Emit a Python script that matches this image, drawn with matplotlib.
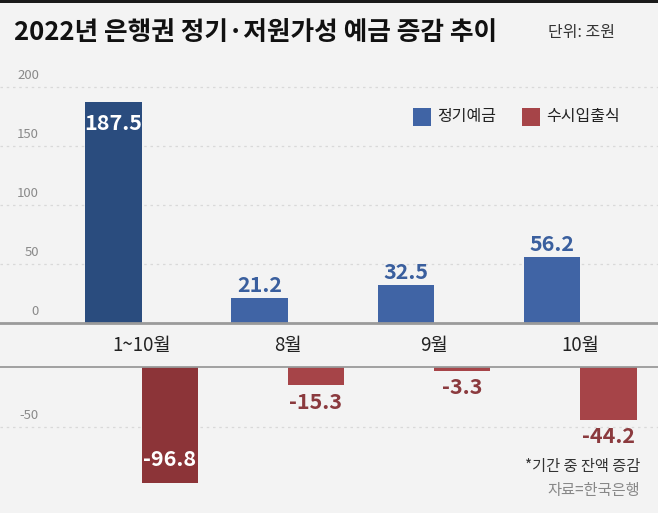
import matplotlib.pyplot as plt

plt.rcParams["font.family"] = ["Noto Sans CJK KR", "DejaVu Sans"]

months = ["1~10월", "8월", "9월", "10월"]
time_dep = [187.5, 21.2, 32.5, 56.2]
demand_dep = [-96.8, -15.3, -3.3, -44.2]
up_ticks = [0, 50, 100, 150, 200]
low_ticks = [-50]

W, H = 658, 513
bg = "#f3f3f3"
blue, blue_dk = "#4064a5", "#2a4c7e"
red, red_dk = "#a64448", "#8c3438"
blue_txt, red_txt = "#3a5f9e", "#8b3a3e"

fig = plt.figure(figsize=(W / 100, H / 100), dpi=100, facecolor=bg)

# thin black strip on top
fig.add_artist(plt.Rectangle((0, 1 - 3 / H), 1, 3 / H, transform=fig.transFigure,
                             color="#1a1a1a", lw=0))

x = list(range(len(months)))
bw = 0.385
xlim = (-141.5 / 146.3, (W - 141.5) / 146.3)


def px(y0, y1):
    return (H - y1) / H, (y1 - y0) / H


b, h = px(63, 323)
ax = fig.add_axes([0, b, 1, h], facecolor=bg)
b, h = px(367, H)
ax2 = fig.add_axes([0, b, 1, h], facecolor=bg)

ax.set_ylim(0, 260 / 1.18)
ax2.set_ylim(-146 / 1.2, 0)
for a in (ax, ax2):
    a.set_xlim(*xlim)
    for s in a.spines.values():
        s.set_visible(False)
    a.set_xticks([])
    a.set_yticks([])

for t in up_ticks[1:]:
    ax.axhline(t, color="#d9d9d9", lw=0.9, ls=(0, (2, 3)), zorder=0)
for t in low_ticks:
    ax2.axhline(t, color="#d9d9d9", lw=0.9, ls=(0, (2, 3)), zorder=0)
ax.axhline(0, color="#9a9a9a", lw=2, zorder=3, clip_on=False)
ax2.axhline(0, color="#9a9a9a", lw=1.3, zorder=3, clip_on=False)

for a, ticks in ((ax, up_ticks), (ax2, low_ticks)):
    for t in ticks:
        a.annotate(str(t), (39 / W, t), xycoords=a.get_yaxis_transform(),
                   xytext=(0, 8.5), textcoords="offset points", ha="right",
                   va="center", fontsize=9.5, color="#8a8a8a", fontweight="light")

bars1 = ax.bar([i - bw / 2 for i in x], time_dep, bw,
               color=[blue_dk] + [blue] * 3, zorder=2)
bars2 = ax2.bar([i + bw / 2 for i in x], demand_dep, bw,
                color=[red_dk] + [red] * 3, zorder=2)

lab = dict(ha="center", va="center", fontsize=15.5, fontweight="bold",
           textcoords="offset points")
for i, (r, v) in enumerate(zip(bars1, time_dep)):
    cx = r.get_x() + r.get_width() / 2
    if i == 0:
        ax.annotate(f"{v:.1f}", (cx, v), xytext=(0, -16), color="white", **lab)
    else:
        ax.annotate(f"{v:.1f}", (cx, v), xytext=(0, 9), color=blue_txt, **lab)

for i, (r, v) in enumerate(zip(bars2, demand_dep)):
    cx = r.get_x() + r.get_width() / 2
    if i == 0:
        ax2.annotate(f"{v:.1f}", (cx, v), xytext=(0, 17), color="white", **lab)
    else:
        ax2.annotate(f"{v:.1f}", (cx, v), xytext=(0, -12), color=red_txt, **lab)

# month labels in the band between the two panels
for i, m in enumerate(months):
    xp = 141.5 + i * 146.3
    fig.text(xp / W, 1 - 345 / H, m, ha="center", va="center", fontsize=13.5,
             color="#222222")

# title
fig.text(14 / W, 1 - 33 / H, "2022년 은행권 정기·저원가성 예금 증감 추이", ha="left",
         va="center", fontsize=18.5, fontweight="bold", color="#111111")
fig.text(548 / W, 1 - 33 / H, "단위: 조원", ha="left", va="center", fontsize=11.5,
         color="#333333")

# legend
for (x0, c, name) in ((413, blue, "정기예금"), (522, red, "수시입출식")):
    fig.add_artist(plt.Rectangle((x0 / W, 1 - 126 / H), 18 / W, 18 / H,
                                 transform=fig.transFigure, color=c, lw=0))
    fig.text((x0 + 24) / W, 1 - 117 / H, name, ha="left", va="center", fontsize=11.5,
             color="#222222")

# notes
fig.text(640 / W, 1 - 467 / H, "*기간 중 잔액 증감", ha="right", va="center",
         fontsize=11, color="#333333")
fig.text(640 / W, 1 - 491 / H, "자료=한국은행", ha="right", va="center",
         fontsize=11, color="#888888")

fig.savefig("out.png", dpi=100, facecolor=bg)
